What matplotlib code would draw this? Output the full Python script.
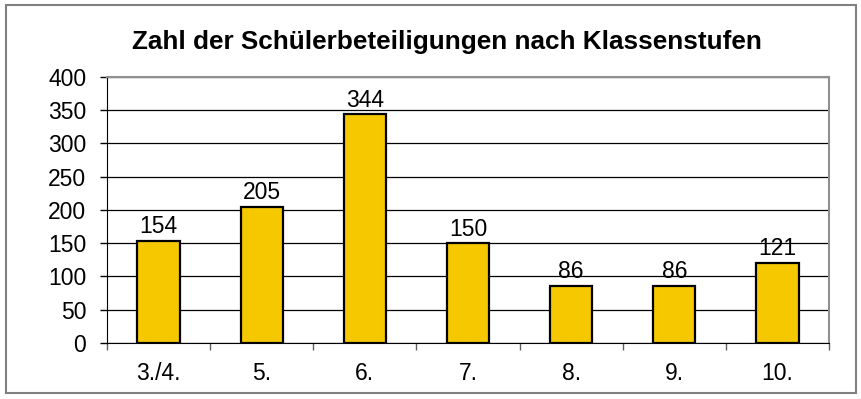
import matplotlib.pyplot as plt
from matplotlib.patches import Rectangle

# Daten
klassen = ["3./4.", "5.", "6.", "7.", "8.", "9.", "10."]
teilnehmer = [154, 205, 344, 150, 86, 86, 121]
y_ticks = [0, 50, 100, 150, 200, 250, 300, 350, 400]

plt.rcParams['font.family'] = ['Liberation Sans', 'DejaVu Sans']

fig = plt.figure(figsize=(8.62, 3.99), dpi=100)
ax = fig.add_axes([0.1241, 0.1404, 0.8376, 0.6667])

# Rahmen um das ganze Diagramm
fig.patches.append(Rectangle((0.007, 0.016), 0.986, 0.971, transform=fig.transFigure,
                             fill=False, edgecolor='#808080', linewidth=1.5))

x = range(len(klassen))
bars = ax.bar(x, teilnehmer, width=0.41, color='#F5C800', edgecolor='black',
              linewidth=1.6, zorder=3)
for xi, v in zip(x, teilnehmer):
    ax.text(xi, v + 4, str(v), ha='center', va='bottom', fontsize=16.5, zorder=4)

ax.set_xlim(-0.5, len(klassen) - 0.5)
ax.set_ylim(0, 400)
ax.set_yticks(y_ticks)
ax.tick_params(axis='y', labelsize=16.5, length=5, width=1, direction='out', pad=10)
ax.yaxis.grid(True, color='black', linewidth=0.9, zorder=0)

ax.set_xticks(list(x))
ax.set_xticklabels(klassen)
ax.set_xticks([i - 0.5 for i in range(len(klassen) + 1)], minor=True)
ax.tick_params(axis='x', which='major', length=0, labelsize=16.5, pad=14)
ax.tick_params(axis='x', which='minor', length=5, width=1, direction='out', color='#606060')

ax.spines['left'].set_color('black')
ax.spines['bottom'].set_color('black')
ax.spines['top'].set_color('#909090')
ax.spines['right'].set_color('#909090')
ax.spines['top'].set_linewidth(1.5)
ax.spines['right'].set_linewidth(1.5)

fig.text(0.519, 0.895, "Zahl der Schülerbeteiligungen nach Klassenstufen",
         ha='center', va='center', fontsize=18.8, fontweight='bold')

fig.savefig("out.png", dpi=100)
